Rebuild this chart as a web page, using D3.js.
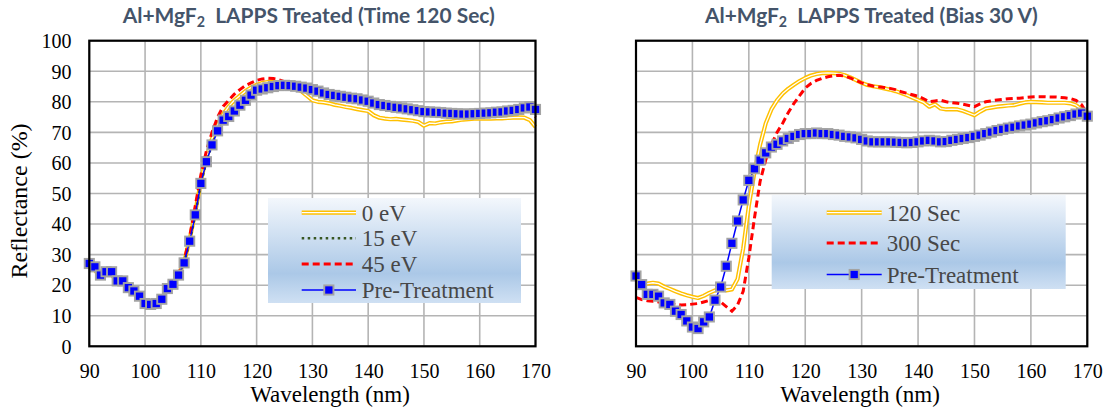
<!DOCTYPE html>
<html>
<head>
<meta charset="utf-8">
<script src="https://cdn.jsdelivr.net/npm/d3@7"></script>
<style>
  body { margin: 0; background: #fff; }
  svg { display: block; }
</style>
</head>
<body>
<svg width="1107" height="413"></svg>
<script>
// sample points, 1 nm apart
var wavelengths = d3.range(90, 171);

// Left panel: Time 120 Sec
var leftZero = [26.5, 25, 22.5, 23.5, 23.5, 21, 21, 19, 18, 16.2, 14, 13.8, 14.2, 15.6, 18.7, 20.5, 23.5, 27.5, 35, 44,
  54, 62, 68, 72.5, 76, 78.5, 80.5, 82, 83.5, 84.7, 85.5, 86.2, 86.5, 86.6, 86.3, 85.8, 85.3, 84.5, 83.5, 82,
  80.5, 80, 79.8, 79.5, 79, 78.7, 78.3, 78, 77.6, 77.3, 77, 75.6, 74.8, 74.5, 74.3, 74.4, 74.2, 74, 73.8, 73.4,
  72.2, 73, 72.9, 73.3, 73.5, 73.6, 73.9, 74.2, 74.3, 74.5, 74.5, 74.5, 74.5, 74.6, 74.6, 74.7, 74.8, 74.9, 74.8, 74, 71.8];
var leftFifteen = [27.1, 26, 23.3, 24.4, 24.4, 21.4, 21.4, 19.2, 18.1, 16.4, 14, 13.7, 14, 15.4, 18.9, 20.3, 23.3, 27.3, 34.4, 43,
  53.3, 60.4, 65.9, 70.5, 74, 75.2, 77, 78.9, 80.5, 82.2, 83.8, 84.2, 84.6, 85, 85.3, 85.4, 85.3, 85.1, 84.8, 84.5,
  84, 83.5, 82.9, 82.4, 82.1, 81.8, 81.5, 81.2, 81, 80.6, 80.2, 79.6, 79.1, 78.8, 78.5, 78.2, 78, 77.7, 77.4, 77.1,
  76.8, 76.7, 76.6, 76.5, 76.3, 76.2, 76.1, 76, 76, 76.1, 76.2, 76.3, 76.4, 76.6, 76.7, 77, 77.2, 77.5, 78, 78.3, 77.5];
var leftFortyFive = [27, 25.8, 23.5, 24.2, 24.2, 21.5, 21.3, 19.3, 18.2, 16.5, 14.2, 13.8, 14.1, 15.5, 19, 20.6, 23.8, 28, 36, 46,
  56, 64, 70, 75, 78.5, 80.5, 82.5, 84, 85.3, 86.2, 87, 87.5, 87.7, 87.6, 87.2, 86.6, 86, 85.5, 85, 84.6,
  84.1, 83.6, 83, 82.5, 82.1, 81.8, 81.5, 81.2, 80.9, 80.6, 80.2, 79.6, 79.1, 78.8, 78.5, 78.2, 78, 77.7, 77.4, 77.1,
  76.8, 76.7, 76.6, 76.5, 76.3, 76.3, 76.3, 76.4, 76.6, 76.8, 77, 77.2, 77.3, 77.4, 77.5, 77.6, 77.7, 77.8, 78, 77.6, 75];
var leftPre = [27.1, 26, 23.3, 24.4, 24.4, 21.4, 21.4, 19.2, 18.1, 16.4, 14, 13.7, 14, 15.4, 18.9, 20.3, 23.3, 27.3, 34.4, 43,
  53.3, 60.4, 65.9, 70.5, 74, 75.2, 77, 78.9, 80.5, 82.2, 83.8, 84.2, 84.6, 85, 85.3, 85.4, 85.3, 85.1, 84.8, 84.5,
  84, 83.5, 82.9, 82.4, 82.1, 81.8, 81.5, 81.2, 81, 80.6, 80.2, 79.6, 79.1, 78.8, 78.5, 78.2, 78, 77.7, 77.4, 77.1,
  76.8, 76.7, 76.6, 76.5, 76.3, 76.2, 76.1, 76, 76, 76.1, 76.2, 76.3, 76.4, 76.6, 76.7, 77, 77.2, 77.5, 78, 78.3, 77.5];

// Right panel: Bias 30 V
var right120 = [20, 20.2, 20.5, 20.8, 20.5, 19.5, 18.8, 18, 17.3, 16.7, 16.2, 15.8, 16.5, 17.5, 18.3, 19, 18.3, 18.6, 22, 32,
  46, 57, 66, 73, 77.5, 80.5, 82.7, 84.3, 85.6, 86.8, 87.8, 88.6, 89.1, 89.4, 89.5, 89.4, 89.2, 88.7, 88, 87.1,
  86.2, 85.5, 85.1, 84.8, 84.4, 84, 83.5, 82.9, 82.2, 81.4, 80.6, 79.8, 78.4, 79.2, 77.8, 77.5, 77.6, 77.5, 77, 76.3,
  75.6, 76.8, 77.8, 78.1, 78.4, 78.6, 78.8, 78.9, 79.4, 79.8, 80, 79.9, 79.8, 79.7, 79.7, 79.7, 79.7, 79.5, 78.9, 77.5, 75.8];
var right300 = [16, 15.3, 14.9, 14.7, 14.5, 14.2, 14, 13.7, 13.5, 13.6, 13.8, 14, 14.5, 15, 15.3, 14.5, 13, 11.5, 13.5, 18,
  29, 42, 54, 61, 66, 70, 73, 76.5, 79.5, 82, 84.5, 86, 87, 87.7, 88.2, 88.5, 88.7, 88.4, 87.8, 87,
  86.2, 85.6, 85.2, 84.9, 84.7, 84.4, 84, 83.3, 82.8, 82.3, 81.8, 81, 80, 80.3, 80.5, 80, 79.7, 79.5, 79.2, 78.8,
  78.4, 79.3, 80, 80.3, 80.6, 80.8, 81, 81.1, 81.2, 81.4, 81.6, 81.7, 81.7, 81.6, 81.6, 81.5, 81.3, 81.1, 80.5, 79, 76];
var rightPre = [23, 20.2, 17, 17, 16.4, 14.2, 13.7, 11.5, 10.4, 8.3, 6.3, 5.8, 8, 9.6, 15.1, 19.4, 26.2, 33.7, 41, 47.9,
  54.3, 58.1, 60.9, 63.3, 65.2, 66.1, 67.2, 68, 68.7, 69.3, 69.6, 69.6, 69.8, 69.6, 69.6, 69.3, 69.1, 68.7, 68.5, 68.2,
  67.7, 67.2, 66.9, 66.9, 66.9, 66.9, 66.8, 66.7, 66.6, 66.7, 66.9, 67.2, 67.4, 67.2, 66.9, 67, 67.4, 67.7, 68, 68.3,
  68.7, 69.1, 69.6, 70.1, 70.6, 71, 71.4, 71.7, 72.1, 72.4, 72.7, 73.1, 73.5, 73.8, 74.2, 74.7, 75.1, 75.5, 76, 76.3, 75.3];

var xTicks = [90, 100, 110, 120, 130, 140, 150, 160, 170];
var yTicks = [0, 10, 20, 30, 40, 50, 60, 70, 80, 90, 100];

var SERIF = "'Liberation Serif', 'Times New Roman', Tinos, serif";
var svg = d3.select("svg");
var defs = svg.append("defs");

// Excel-like gradient legend fill
var grad = defs.append("linearGradient")
  .attr("id", "legendFill")
  .attr("x1", 0).attr("y1", 0).attr("x2", 0).attr("y2", 1);
grad.append("stop").attr("offset", "0%").attr("stop-color", "#f3f7fc");
grad.append("stop").attr("offset", "72%").attr("stop-color", "#abc8e7");
grad.append("stop").attr("offset", "100%").attr("stop-color", "#cfe0f3");

function drawLine(g, pts, style) {
  var line = d3.line();
  if (style === "gold") {
    g.append("path").attr("d", line(pts)).attr("fill", "none")
      .attr("stroke", "#ffc000").attr("stroke-width", 4.2).attr("stroke-linejoin", "round");
    g.append("path").attr("d", line(pts)).attr("fill", "none")
      .attr("stroke", "#fff").attr("stroke-width", 1.3).attr("stroke-linejoin", "round");
  } else if (style === "green") {
    g.append("path").attr("d", line(pts)).attr("fill", "none")
      .attr("stroke", "#385723").attr("stroke-width", 2.5).attr("stroke-dasharray", "2.5,3.5");
  } else if (style === "red") {
    g.append("path").attr("d", line(pts)).attr("fill", "none")
      .attr("stroke", "#ff0000").attr("stroke-width", 3).attr("stroke-dasharray", "7,4");
  } else {
    g.append("path").attr("d", line(pts)).attr("fill", "none")
      .attr("stroke", "#0000ff").attr("stroke-width", 1.5);
  }
}

function drawMarkers(g, pts) {
  g.selectAll(".mk").data(pts).enter().append("rect")
    .attr("class", "mk")
    .attr("x", function(d) { return d[0] - 4.6; })
    .attr("y", function(d) { return d[1] - 4.6; })
    .attr("width", 9.2).attr("height", 9.2)
    .attr("fill", "#0000ff")
    .attr("stroke", "#a3a3a3").attr("stroke-width", 1.9);
}

function fitTitle(text, width) {
  var w = text.node().getComputedTextLength();
  var fs = parseFloat(text.attr("font-size"));
  text.attr("font-size", fs * width / w);
}

// serif text helper, style set inline so nothing inherited overrides it
function serifText(sel, size) {
  return sel.style("font-family", SERIF).style("font-size", size + "px");
}

function panel(opt) {
  var x = d3.scaleLinear().domain([90, 170]).range([opt.x0, opt.x1]);
  var y = d3.scaleLinear().domain([0, 100]).range([346.3, 40.7]);
  var g = svg.append("g");

  // grid
  g.append("g").selectAll("line.v").data(xTicks).enter().append("line")
    .attr("x1", x).attr("x2", x).attr("y1", y(0)).attr("y2", y(100))
    .attr("stroke", "#b4b4b4").attr("stroke-width", 1.6);
  g.append("g").selectAll("line.h").data(yTicks).enter().append("line")
    .attr("x1", x(90)).attr("x2", x(170)).attr("y1", y).attr("y2", y)
    .attr("stroke", "#b4b4b4").attr("stroke-width", 1.6);

  // series
  opt.series.forEach(function(s) {
    var pts = wavelengths.map(function(w, i) { return [x(w), y(s.values[i])]; });
    var sg = g.append("g");
    drawLine(sg, pts, s.style);
    if (s.style === "blue") drawMarkers(sg, pts);
  });

  // frame
  g.append("rect")
    .attr("x", x(90)).attr("y", y(100))
    .attr("width", x(170) - x(90)).attr("height", y(0) - y(100))
    .attr("fill", "none").attr("stroke", "#000").attr("stroke-width", 2.2);

  // x tick labels
  var xAxis = d3.axisBottom(x).tickValues(xTicks).tickSize(0).tickPadding(0).tickFormat(d3.format("d"));
  var xa = g.append("g").attr("transform", "translate(0,378)").call(xAxis);
  xa.select(".domain").remove();
  serifText(xa.selectAll("text").attr("dy", null).attr("y", 0).attr("fill", "#000"), 20);

  if (opt.yLabels) {
    var yAxis = d3.axisLeft(y).tickValues(yTicks).tickSize(0).tickPadding(0);
    var ya = g.append("g").attr("transform", "translate(71.5,0)").call(yAxis);
    ya.select(".domain").remove();
    serifText(ya.selectAll("text").attr("x", 0).attr("dy", "0.34em").attr("fill", "#000"), 20);

    serifText(g.append("text"), 24)
      .attr("transform", "translate(27,201) rotate(-90)")
      .attr("text-anchor", "middle")
      .attr("fill", "#000")
      .text("Reflectance (%)");
  }

  serifText(g.append("text"), 23)
    .attr("x", opt.xTitleX).attr("y", 401.5)
    .attr("text-anchor", "middle")
    .attr("fill", "#000")
    .text("Wavelength (nm)");

  // title
  var t = svg.append("text")
    .attr("x", opt.titleX0).attr("y", 23)
    .attr("font-family", "Lato, 'Open Sans', sans-serif").attr("font-weight", "bold")
    .attr("font-size", 19).attr("fill", "#44546a")
    .style("white-space", "pre");
  t.append("tspan").text("Al+MgF");
  t.append("tspan").attr("font-size", "0.68em").attr("dy", 4).text("2");
  t.append("tspan").attr("dy", -4).text("  " + opt.title);
  fitTitle(t, opt.titleX1 - opt.titleX0);

  // legend
  var L = opt.legend;
  var lg = svg.append("g");
  lg.append("rect")
    .attr("x", L.x).attr("y", L.y).attr("width", L.w).attr("height", L.h)
    .attr("fill", "url(#legendFill)");
  opt.series.forEach(function(s, i) {
    var cy = L.rows[i];
    var sg = lg.append("g");
    var pts = [[L.sx0, cy], [L.sx1, cy]];
    drawLine(sg, pts, s.style);
    if (s.style === "blue") drawMarkers(sg, [[(L.sx0 + L.sx1) / 2, cy]]);
    serifText(lg.append("text"), 23)
      .attr("x", L.tx).attr("y", cy).attr("dy", "0.35em")
      .attr("fill", "#474747")
      .text(s.name);
  });
}

panel({
  x0: 89.3, x1: 535.5,
  yLabels: true,
  xTitleX: 330,
  title: "LAPPS Treated (Time 120 Sec)",
  titleX0: 122.7, titleX1: 495,
  series: [
    { name: "0 eV", values: leftZero, style: "gold" },
    { name: "15 eV", values: leftFifteen, style: "green" },
    { name: "45 eV", values: leftFortyFive, style: "red" },
    { name: "Pre-Treatment", values: leftPre, style: "blue" }
  ],
  legend: { x: 268, y: 198, w: 253, h: 105, rows: [212.7, 238.3, 264, 290], sx0: 301.7, sx1: 356, tx: 361.7 }
});

panel({
  x0: 636, x1: 1087.3,
  yLabels: false,
  xTitleX: 860,
  title: "LAPPS Treated (Bias 30 V)",
  titleX0: 705, titleX1: 1038,
  series: [
    { name: "120 Sec", values: right120, style: "gold" },
    { name: "300 Sec", values: right300, style: "red" },
    { name: "Pre-Treatment", values: rightPre, style: "blue" }
  ],
  legend: { x: 771.7, y: 195, w: 294, h: 94, rows: [212.7, 243, 274.5], sx0: 826.7, sx1: 881.7, tx: 886.7 }
});
</script>
</body>
</html>
